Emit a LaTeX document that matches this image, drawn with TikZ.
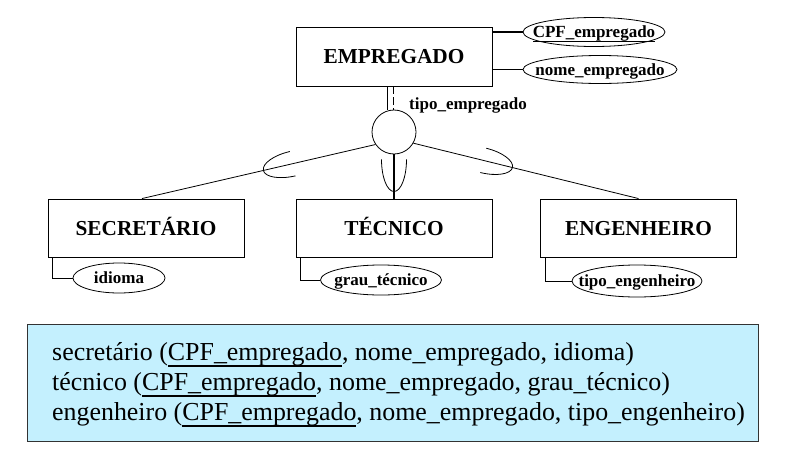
\documentclass[tikz,border=0pt]{standalone}
\usepackage{fontspec}
\setmainfont{Liberation Serif}
\usetikzlibrary{shapes.geometric,decorations.markings}
\definecolor{boxfill}{RGB}{196,240,254}
\newcommand\ulkey[3]{\setbox0=\hbox{#1}\rlap{\rule[-#2]{\wd0}{#3}}\box0}
\newcommand\ztext[1]{\makebox[0pt]{\raisebox{-5.5pt}[0pt][0pt]{#1}}}
\tikzset{
  entity/.style={draw, line width=0.9pt, minimum width=196pt, minimum height=58pt, inner sep=0pt,
    text height=14.1pt, text depth=0pt, font=\fontsize{21.3}{24}\selectfont\bfseries},
  attr/.style={draw, ellipse, line width=0.8pt, inner sep=0pt,
    font=\fontsize{17}{20}\selectfont\bfseries},
  conn/.style={line width=0.8pt},
  thickconn/.style={line width=1.6pt},
  subset/.style args={#1/#2}{postaction={decorate, decoration={markings,
     mark=at position #1 with {\draw[line width=0.8pt] (-#2pt,12.5pt) arc[start angle=90,end angle=-90,x radius=#2pt,y radius=12.5pt];}}}},
  reltext/.style={anchor=base west, inner sep=0pt, font=\fontsize{25.9}{30}\selectfont}
}
\begin{document}
\begin{tikzpicture}[x=1pt,y=-1pt]
\useasboundingbox (0,0) rectangle (806,458);

% superclass
\node[entity, minimum height=59pt] (emp) at (394,56.5) {EMPREGADO};
\node[attr, minimum width=142pt, minimum height=29pt] (cpf) at (594,32) {\ztext{\ulkey{CPF\_empregado}{4.5pt}{1.3pt}}};
\node[attr, minimum width=154pt, minimum height=28pt] (nome) at (600,69.5) {\ztext{nome\_empregado}};
\draw[thickconn] (emp.east |- cpf.west) -- (cpf.west);
\draw[thickconn] (emp.east |- nome.west) -- (nome.west);

% specialization circle
\node[circle, draw, minimum size=44pt, inner sep=0pt, line width=0.8pt] (circ) at (394,132) {};
\draw[conn] (emp.south -| circ.106) -- (circ.106);
\draw[conn, dash pattern=on 8pt off 3pt] (emp.south -| circ.92) -- (circ.92);
\node[anchor=base west, inner sep=0pt, font=\fontsize{17}{20}\selectfont\bfseries] (tipo) at (409,109) {tipo\_empregado};

% subclasses
\node[entity] (sec) at (146,228) {SECRETÁRIO};
\node[entity] (tec) at (394,228) {TÉCNICO};
\node[entity] (eng) at (638.5,228) {ENGENHEIRO};

\draw[conn, subset={0.48/30}] (circ.214) -- ([xshift=-4pt]sec.north);
\draw[line width=1.8pt, subset={0.84/32}] (circ.south) -- (tec.north);
\draw[conn, subset={0.44/30}] (circ.330) -- (eng.north);

% subclass attributes
\node[attr, minimum width=92pt, minimum height=30pt] (idi) at (119,278) {\ztext{idioma}};
\node[attr, minimum width=121pt, minimum height=30pt] (grau) at (381,280) {\ztext{grau\_técnico}};
\node[attr, minimum width=130pt, minimum height=32pt] (teng) at (637,281) {\ztext{tipo\_engenheiro}};
\draw[conn] ([xshift=5pt]sec.south west) |- (idi.west);
\draw[conn] ([xshift=5pt]tec.south west) |- (grau.west);
\draw[conn] ([xshift=5pt]eng.south west) |- (teng.west);

% relational schema box
\node[draw=black!80, fill=boxfill, line width=1pt, minimum width=731pt, minimum height=117pt,
  anchor=north west, inner sep=0pt] (tab) at (27,324) {};
\node[reltext] (l1) at (52,360) {secretário (\ulkey{CPF\_empregado}{6.5pt}{1.5pt}, nome\_empregado, idioma)};
\node[reltext] (l2) at (52,390) {técnico (\ulkey{CPF\_empregado}{6.5pt}{1.5pt}, nome\_empregado, grau\_técnico)};
\node[reltext] (l3) at (52,420) {engenheiro (\ulkey{CPF\_empregado}{6.5pt}{1.5pt}, nome\_empregado, tipo\_engenheiro)};
\end{tikzpicture}
\end{document}
